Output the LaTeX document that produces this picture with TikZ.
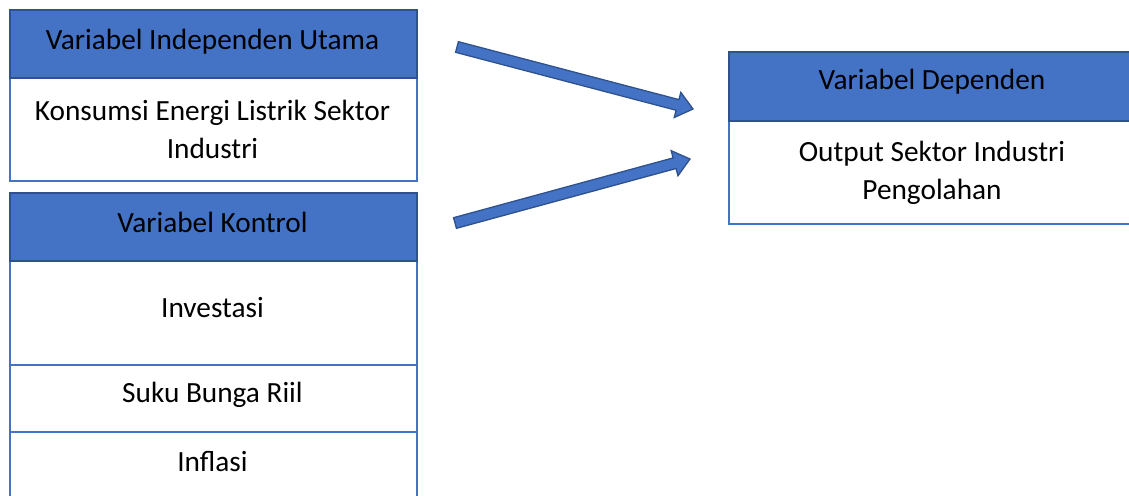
\documentclass[tikz,border=0pt]{standalone}
\usepackage{fontspec}
\setmainfont{Carlito}
\usetikzlibrary{calc}
\definecolor{hdrblue}{HTML}{4472C4}
\definecolor{hdrdark}{HTML}{2F528F}
\newcommand\fatarrow[3]{%
  \coordinate (#3h) at ($(#2)!16pt!(#1)$);
  \draw[fatarr] ($(#1)!5.5pt!90:(#2)$) -- ($(#3h)!5.5pt!90:(#2)$) -- ($(#3h)!13pt!90:(#2)$) -- (#2)
     -- ($(#3h)!13pt!-90:(#2)$) -- ($(#3h)!5.5pt!-90:(#2)$) -- ($(#1)!5.5pt!-90:(#2)$) -- cycle;}
\tikzset{
  hdr/.style={draw=hdrdark, fill=hdrblue, line width=1.6pt, anchor=north west, inner sep=0pt},
  cell/.style={draw=hdrblue, fill=white, line width=1.6pt, anchor=north west, inner sep=0pt},
  lbl/.style={align=center, text=black, inner sep=0pt},
  fatarr/.style={draw=hdrdark, fill=hdrblue, line width=1.3pt, line join=miter},
}
\begin{document}
\begin{tikzpicture}[x=1pt, y=-1pt, font=\fontsize{29.3}{38}\selectfont]
\clip (0,0) rectangle (1129,495);
% left top group
\node[cell, minimum width=407pt, minimum height=103pt] (b1) at (9,77) {};
\node[hdr, minimum width=407pt, minimum height=68pt] (h1) at (9,9) {};
\node[lbl] (t1) at (212.5,42) {Variabel Independen Utama};
\node[lbl] (t2) at (212.5,129) {Konsumsi Energi Listrik Sektor\\Industri};
% left bottom group
\node[cell, minimum width=407pt, minimum height=104pt] (b2) at (9,260) {};
\node[cell, minimum width=407pt, minimum height=67pt] (b3) at (9,364) {};
\node[cell, minimum width=407pt, minimum height=80pt] (b4) at (9,431) {};
\node[hdr, minimum width=407pt, minimum height=68pt] (h2) at (9,192) {};
\node[lbl] (t3) at (212.5,222) {Variabel Kontrol};
\node[lbl] (t4) at (212.5,308) {Investasi};
\node[lbl] (t5) at (212.5,395) {Suku Bunga Riil};
\node[lbl] (t6) at (212.5,462) {Inflasi};
% right group
\node[cell, minimum width=420pt, minimum height=103pt] (b5) at (728,120) {};
\node[hdr, minimum width=420pt, minimum height=69pt] (h3) at (728,51) {};
\node[lbl] (t7) at (932,82) {Variabel Dependen};
\node[lbl] (t8) at (932,173) {Output Sektor Industri\\Pengolahan};
% arrows
\coordinate (a1s) at (457,47);
\coordinate (a1e) at (693,109);
\coordinate (a2s) at (455,223);
\coordinate (a2e) at (690,159);
\fatarrow{a1s}{a1e}{ah1}
\fatarrow{a2s}{a2e}{ah2}
\end{tikzpicture}
\end{document}
